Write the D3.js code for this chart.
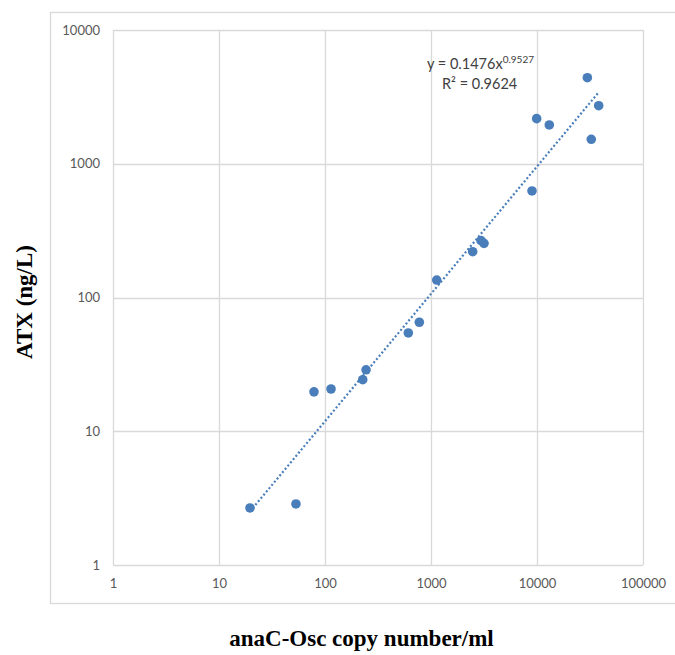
<!DOCTYPE html>
<html>
<head>
<meta charset="utf-8">
<script src="https://cdn.jsdelivr.net/npm/d3@7"></script>
<style>
  html, body { margin: 0; padding: 0; background: #fff; }
  svg { display: block; }
</style>
</head>
<body>
<svg id="chart" width="675" height="655"></svg>
<script>
// anaC-Osc copy number per ml vs. ATX concentration (ng/L)
const copyNumber = [19.6, 53.2, 78.7, 114, 227, 244, 611, 776, 1132, 2473, 2963, 3162, 8970, 9930, 13060, 29850, 38200, 32500];
const atx        = [2.67, 2.86, 19.7, 20.7, 24.3, 28.8, 54.3, 65.3, 135, 220, 266, 254, 626, 2173, 1950, 4397, 2717, 1524];

// Power-law trend line parameters
const fitA = 0.1476;
const fitB = 0.9527;
const fitR2 = "0.9624";

const xTicks = [1, 10, 100, 1000, 10000, 100000];
const yTicks = [1, 10, 100, 1000, 10000];

const svg = d3.select("#chart");
const plot = { left: 113, right: 643, top: 30, bottom: 565 };

const x = d3.scaleLog().domain([1, 100000]).range([plot.left, plot.right]);
const y = d3.scaleLog().domain([1, 10000]).range([plot.bottom, plot.top]);

const gridColor = "#d9d9d9";
const labelColor = "#595959";
const pointColor = "#4a7ebb";

// outer chart frame
svg.append("rect")
  .attr("x", 50.5).attr("y", 12.5)
  .attr("width", 640).attr("height", 591)
  .attr("fill", "none").attr("stroke", gridColor).attr("stroke-width", 1.3);

// gridlines
svg.append("g").selectAll("line").data(xTicks).join("line")
  .attr("x1", d => Math.round(x(d)) + 0.5).attr("x2", d => Math.round(x(d)) + 0.5)
  .attr("y1", plot.top).attr("y2", plot.bottom)
  .attr("stroke", gridColor).attr("stroke-width", 1.3);
svg.append("g").selectAll("line").data(yTicks).join("line")
  .attr("y1", d => Math.round(y(d)) + 0.5).attr("y2", d => Math.round(y(d)) + 0.5)
  .attr("x1", plot.left).attr("x2", plot.right)
  .attr("stroke", gridColor).attr("stroke-width", 1.3);

// axes (tick labels only, Excel style)
const xAxis = d3.axisBottom(x).tickValues(xTicks).tickFormat(d3.format("d")).tickSize(0).tickPadding(14);
const yAxis = d3.axisLeft(y).tickValues(yTicks).tickFormat(d3.format("d")).tickSize(0).tickPadding(13);

const gx = svg.append("g").attr("transform", `translate(0,${plot.bottom})`).call(xAxis);
const gy = svg.append("g").attr("transform", `translate(${plot.left},0)`).call(yAxis);
[gx, gy].forEach(g => {
  g.select(".domain").remove();
  g.selectAll("text")
    .attr("fill", labelColor)
    .style("font-family", "Lato, 'Open Sans', sans-serif")
    .style("font-size", "13px");
});

// trend line y = a x^b over the data range
const xMin = d3.min(copyNumber), xMax = d3.max(copyNumber);
const trend = d3.range(0, 101).map(i => {
  const lx = Math.log10(xMin) + (Math.log10(xMax) - Math.log10(xMin)) * i / 100;
  const xv = Math.pow(10, lx);
  return [xv, fitA * Math.pow(xv, fitB)];
});
svg.append("path")
  .datum(trend)
  .attr("d", d3.line().x(d => x(d[0])).y(d => y(d[1])))
  .attr("fill", "none")
  .attr("stroke", pointColor)
  .attr("stroke-width", 2.2)
  .attr("stroke-dasharray", "2,2.2");

// data points
svg.append("g").selectAll("circle")
  .data(copyNumber.map((c, i) => [c, atx[i]]))
  .join("circle")
  .attr("cx", d => x(d[0]))
  .attr("cy", d => y(d[1]))
  .attr("r", 4.8)
  .attr("fill", pointColor);

// equation label
const eq = svg.append("text")
  .attr("x", 427).attr("y", 69)
  .attr("fill", "#404040")
  .style("font-family", "Lato, 'Open Sans', sans-serif")
  .style("font-size", "14.5px");
eq.append("tspan").text("y = " + fitA + "x");
eq.append("tspan").attr("dy", -6).style("font-size", "10px").text(fitB);

svg.append("text")
  .attr("x", 442).attr("y", 89)
  .attr("fill", "#404040")
  .style("font-family", "Lato, 'Open Sans', sans-serif")
  .style("font-size", "14.5px")
  .text("R² = " + fitR2);

// axis titles
svg.append("text")
  .attr("x", 361.5).attr("y", 646)
  .attr("text-anchor", "middle")
  .style("font-family", "'Liberation Serif', 'Times New Roman', serif")
  .style("font-weight", "bold")
  .style("font-size", "23px")
  .text("anaC-Osc copy number/ml");

svg.append("text")
  .attr("transform", "translate(31.5,302) rotate(-90)")
  .attr("text-anchor", "middle")
  .style("font-family", "'Liberation Serif', 'Times New Roman', serif")
  .style("font-weight", "bold")
  .style("font-size", "23px")
  .text("ATX (ng/L)");
</script>
</body>
</html>
